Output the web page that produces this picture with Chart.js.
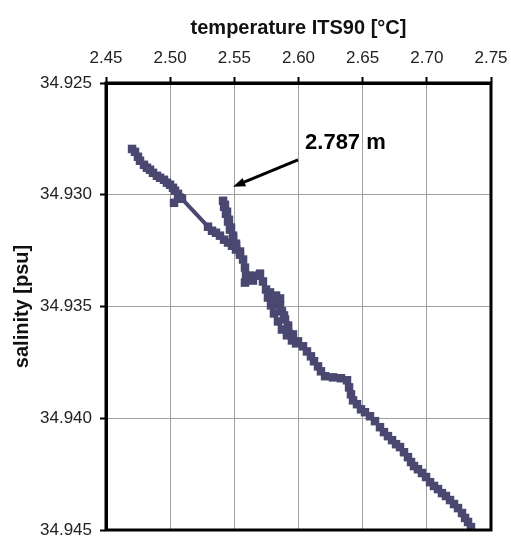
<!DOCTYPE html>
<html>
<head>
<meta charset="utf-8">
<script src="https://cdn.jsdelivr.net/npm/chart.js@4.4.1/dist/chart.umd.min.js"></script>
<style>
  html, body { margin: 0; padding: 0; background: #fff; }
  #wrap { width: 511px; height: 536px; position: relative; }
</style>
</head>
<body>
<div id="wrap"><canvas id="tsChart"></canvas></div>
<script>
// temperature / salinity profile
const temperature = [
  2.4703, 2.4726, 2.4749, 2.4765, 2.4796, 2.4819, 2.4843, 2.4866, 2.4897, 2.4921,
  2.4952, 2.4975, 2.4999, 2.5022, 2.5038, 2.5061, 2.5030, 2.5077, 2.5092,
  2.5295, 2.5326, 2.5357, 2.5388, 2.5420, 2.5451, 2.5482, 2.5513, 2.5544,
  2.5513, 2.5490, 2.5466, 2.5451, 2.5435, 2.5420, 2.5412,
  2.5427, 2.5443, 2.5458, 2.5474, 2.5490, 2.5513, 2.5544, 2.5568, 2.5583, 2.5591,
  2.5583, 2.5614, 2.5645, 2.5669, 2.5700, 2.5723, 2.5747, 2.5778, 2.5825, 2.5856,
  2.5762, 2.5786, 2.5809, 2.5840, 2.5871, 2.5910, 2.5949, 2.5981,
  2.5949, 2.5918, 2.5895, 2.5871, 2.5848, 2.5825,
  2.5856, 2.5887, 2.5918, 2.5957, 2.5996, 2.6035, 2.6066, 2.6097, 2.6121, 2.6152,
  2.6175, 2.6207, 2.6269, 2.6331, 2.6378, 2.6394, 2.6409, 2.6425, 2.6456, 2.6487,
  2.6518, 2.6557, 2.6596, 2.6635, 2.6666, 2.6697, 2.6729, 2.6760, 2.6791, 2.6822,
  2.6853, 2.6877, 2.6900, 2.6931, 2.6962, 2.6994, 2.7025, 2.7056, 2.7087, 2.7118,
  2.7149, 2.7181, 2.7212, 2.7243, 2.7274, 2.7298, 2.7321, 2.7344
];

const salinity = [
  34.92795, 34.92808, 34.92830, 34.92848, 34.92866, 34.92879, 34.92888, 34.92902, 34.92915, 34.92924,
  34.92933, 34.92946, 34.92955, 34.92969, 34.92982, 34.92996, 34.93036, 34.93013, 34.93018,
  34.93143, 34.93161, 34.93170, 34.93183, 34.93201, 34.93214, 34.93228, 34.93245, 34.93268,
  34.93228, 34.93192, 34.93156, 34.93120, 34.93085, 34.93054, 34.93027,
  34.93045, 34.93076, 34.93112, 34.93147, 34.93183, 34.93219, 34.93254, 34.93290, 34.93326, 34.93362,
  34.93393, 34.93362, 34.93384, 34.93362, 34.93353, 34.93388, 34.93424, 34.93437, 34.93451, 34.93464,
  34.93460, 34.93495, 34.93531, 34.93567, 34.93603, 34.93629, 34.93652, 34.93665,
  34.93629, 34.93594, 34.93558, 34.93522, 34.93491, 34.93464,
  34.93495, 34.93540, 34.93585, 34.93625, 34.93656, 34.93678, 34.93701, 34.93723, 34.93745, 34.93768,
  34.93790, 34.93812, 34.93817, 34.93821, 34.93830, 34.93862, 34.93893, 34.93920, 34.93937, 34.93960,
  34.93973, 34.93991, 34.94013, 34.94040, 34.94062, 34.94080, 34.94098, 34.94116, 34.94129, 34.94152,
  34.94174, 34.94196, 34.94214, 34.94228, 34.94245, 34.94263, 34.94286, 34.94303, 34.94317, 34.94335,
  34.94348, 34.94366, 34.94384, 34.94402, 34.94424, 34.94446, 34.94464, 34.94487
];

const tempTicks = [2.45, 2.50, 2.55, 2.60, 2.65, 2.70, 2.75];
const salTicks = [34.925, 34.930, 34.935, 34.940, 34.945];

// annotation: depth label with an arrow to the first sample
const noteText = '2.787 m';
const noteAt = { x: 2.6051, y: 34.92768 };
const arrowFrom = { x: 2.5996, y: 34.92844 };
const arrowTo = { x: 2.5490, y: 34.92964 };

const points = temperature.map((t, i) => ({ x: t, y: salinity[i] }));

const fontFamily = '"Liberation Sans", Arial, sans-serif';

const frameAndNote = {
  id: 'frameAndNote',
  afterDraw(chart) {
    const ctx = chart.ctx;
    const a = chart.chartArea;
    const xs = chart.scales.x;
    const ys = chart.scales.y;

    // black frame round the plot
    ctx.save();
    ctx.strokeStyle = '#000';
    ctx.lineWidth = 3;
    ctx.strokeRect(a.left, a.top, a.right - a.left, a.bottom - a.top);

    // arrow
    const x1 = xs.getPixelForValue(arrowFrom.x), y1 = ys.getPixelForValue(arrowFrom.y);
    const x2 = xs.getPixelForValue(arrowTo.x), y2 = ys.getPixelForValue(arrowTo.y);
    const ang = Math.atan2(y2 - y1, x2 - x1);
    ctx.lineWidth = 3;
    ctx.beginPath();
    ctx.moveTo(x1, y1);
    ctx.lineTo(x2 - 6 * Math.cos(ang), y2 - 6 * Math.sin(ang));
    ctx.stroke();
    ctx.fillStyle = '#000';
    ctx.beginPath();
    ctx.moveTo(x2, y2);
    ctx.lineTo(x2 - 13 * Math.cos(ang - 0.35), y2 - 13 * Math.sin(ang - 0.35));
    ctx.lineTo(x2 - 13 * Math.cos(ang + 0.35), y2 - 13 * Math.sin(ang + 0.35));
    ctx.closePath();
    ctx.fill();

    // label
    ctx.font = 'bold 22px ' + fontFamily;
    ctx.textAlign = 'left';
    ctx.textBaseline = 'middle';
    ctx.fillText(noteText, xs.getPixelForValue(noteAt.x), ys.getPixelForValue(noteAt.y));
    ctx.restore();
  }
};

const ctx = document.getElementById('tsChart').getContext('2d');

const tsChart = new Chart(ctx, {
  type: 'scatter',
  data: {
    datasets: [{
      data: points,
      showLine: true,
      borderColor: '#4a4870',
      backgroundColor: '#4a4870',
      borderWidth: 4,
      borderJoinStyle: 'round',
      pointStyle: 'rect',
      pointRadius: 6,
      pointBorderWidth: 0,
      tension: 0
    }]
  },
  options: {
    responsive: true,
    maintainAspectRatio: false,
    animation: false,
    layout: { padding: { left: 0, top: 0, right: 20, bottom: 5 } },
    plugins: {
      legend: { display: false },
      tooltip: { enabled: false }
    },
    scales: {
      x: {
        type: 'linear',
        position: 'top',
        min: 2.45,
        max: 2.75,
        afterBuildTicks: scale => { scale.ticks = tempTicks.map(v => ({ value: v })); },
        afterFit: scale => {
          scale.height = 83;
          scale.paddingLeft = 0;
          scale.paddingRight = 0;
        },
        ticks: {
          callback: v => v.toFixed(2),
          font: { family: fontFamily, size: 17 },
          color: '#222',
          padding: 8,
          maxRotation: 0
        },
        grid: {
          color: '#a0a0a0',
          lineWidth: 1,
          tickColor: '#000',
          tickLength: 6,
          tickWidth: 2
        },
        border: { color: '#000', width: 3 },
        title: {
          display: true,
          text: 'temperature ITS90 [°C]',
          font: { family: fontFamily, size: 20, weight: 'bold' },
          color: '#111',
          padding: { top: 16, bottom: 0 }
        }
      },
      y: {
        type: 'linear',
        reverse: true,
        min: 34.925,
        max: 34.945,
        afterBuildTicks: scale => { scale.ticks = salTicks.map(v => ({ value: v })); },
        afterFit: scale => {
          scale.width = 106;
          scale.paddingTop = 0;
          scale.paddingBottom = 0;
        },
        ticks: {
          callback: v => v.toFixed(3),
          font: { family: fontFamily, size: 17 },
          color: '#222',
          padding: 8
        },
        grid: {
          color: '#a0a0a0',
          lineWidth: 1,
          tickColor: '#000',
          tickLength: 6,
          tickWidth: 2
        },
        border: { color: '#000', width: 3 },
        title: {
          display: true,
          text: 'salinity [psu]',
          font: { family: fontFamily, size: 20, weight: 'bold' },
          color: '#111',
          padding: { top: 10, bottom: 0 }
        }
      }
    }
  },
  plugins: [frameAndNote]
});
</script>
</body>
</html>
